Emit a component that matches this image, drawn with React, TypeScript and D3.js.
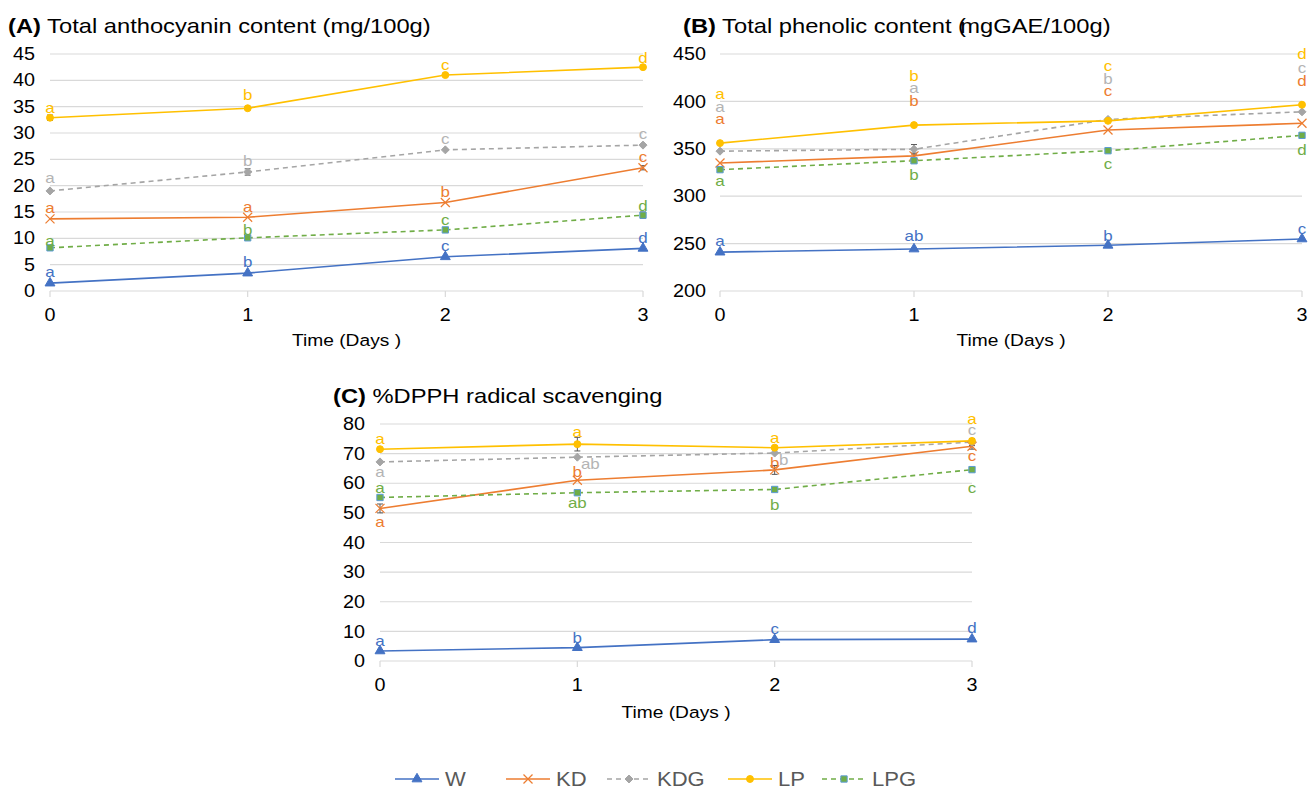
import React from 'react';
import * as d3 from 'd3';

const days = [0, 1, 2, 3];
const seriesNames = ['W', 'KD', 'KDG', 'LP', 'LPG'];

// Panel A: total anthocyanin content
const anthoW = [1.5, 3.4, 6.5, 8.1];
const anthoKD = [13.7, 14.0, 16.8, 23.4];
const anthoKDG = [19.0, 22.6, 26.8, 27.7];
const anthoLP = [32.9, 34.7, 41.0, 42.5];
const anthoLPG = [8.2, 10.1, 11.6, 14.4];
const anthoErrW = [0, 0, 0, 0];
const anthoErrKD = [0, 0, 0, 0.4];
const anthoErrKDG = [0, 0.6, 0, 0];
const anthoErrLP = [0.5, 0, 0, 0];
const anthoErrLPG = [0, 0, 0, 0.6];
const anthoLetW = ['a', 'b', 'c', 'd'];
const anthoLetKD = ['a', 'a', 'b', 'c'];
const anthoLetKDG = ['a', 'b', 'c', 'c'];
const anthoLetLP = ['a', 'b', 'c', 'd'];
const anthoLetLPG = ['a', 'b', 'c', 'd'];
const anthoTicks = [0, 5, 10, 15, 20, 25, 30, 35, 40, 45];

// Panel B: total phenolic content
const phenW = [241, 244.3, 248.2, 254.9];
const phenKD = [335, 342.5, 369.8, 376.9];
const phenKDG = [347.5, 349.5, 381, 389];
const phenLP = [356, 375, 379.5, 396.5];
const phenLPG = [328, 337.4, 348, 364.2];
const phenErrW = [0, 0, 0, 0];
const phenErrKD = [0, 3, 0, 0];
const phenErrKDG = [0, 5, 0, 0];
const phenErrLP = [0, 0, 0, 0];
const phenErrLPG = [2, 0, 0, 0];
const phenLetW = ['a', 'ab', 'b', 'c'];
const phenLetKD = ['a', 'b', 'c', 'd'];
const phenLetKDG = ['a', 'a', 'b', 'c'];
const phenLetLP = ['a', 'b', 'c', 'd'];
const phenLetLPG = ['a', 'b', 'c', 'd'];
const phenTicks = [200, 250, 300, 350, 400, 450];

// Panel C: %DPPH radical scavenging
const dpphW = [3.4, 4.5, 7.2, 7.4];
const dpphKD = [51.5, 61.0, 64.5, 72.5];
const dpphKDG = [67.2, 68.8, 70.2, 73.9];
const dpphLP = [71.5, 73.2, 72.0, 74.3];
const dpphLPG = [55.2, 56.8, 57.9, 64.6];
const dpphErrW = [0, 0, 0, 0];
const dpphErrKD = [1.5, 0, 1.5, 1];
const dpphErrKDG = [0, 0, 0, 1.2];
const dpphErrLP = [0, 2.3, 0, 0];
const dpphErrLPG = [0, 0, 0, 0];
const dpphLetW = ['a', 'b', 'c', 'd'];
const dpphLetKD = ['a', 'b', 'b', 'c'];
const dpphLetKDG = ['a', 'ab', 'b', 'c'];
const dpphLetLP = ['a', 'a', 'a', 'a'];
const dpphLetLPG = ['a', 'ab', 'b', 'c'];
const dpphTicks = [0, 10, 20, 30, 40, 50, 60, 70, 80];

const xTickLabels = ['0', '1', '2', '3'];

// ---- styles / layout ----
const COLORS: Record<string, string> = {
  W: '#4472C4',
  KD: '#ED7D31',
  KDG: '#A5A5A5',
  LP: '#FFC000',
  LPG: '#70AD47',
};
const LETTER_COLORS: Record<string, string> = {
  W: '#4472C4',
  KD: '#ED7D31',
  KDG: '#B4B4B4',
  LP: '#FFC000',
  LPG: '#70AD47',
};
const DASHED: Record<string, boolean> = { W: false, KD: false, KDG: true, LP: false, LPG: true };
const FONT = '"Liberation Sans", Arial, Helvetica, sans-serif';
const SX = 1.13;

type Off = [number, number][];
const def: Off = [[0, -11], [0, -11], [0, -11], [0, -11]];

const panels = [
  {
    key: 'A',
    tag: '(A)',
    title: ' Total anthocyanin content (mg/100g)',
    titleX: 8, titleY: 33,
    xRange: [50, 643], yRange: [291, 54], yDomain: [0, 45],
    ticks: anthoTicks, tickRight: 35, axisTitleY: 340,
    values: { W: anthoW, KD: anthoKD, KDG: anthoKDG, LP: anthoLP, LPG: anthoLPG },
    errs: { W: anthoErrW, KD: anthoErrKD, KDG: anthoErrKDG, LP: anthoErrLP, LPG: anthoErrLPG },
    letters: { W: anthoLetW, KD: anthoLetKD, KDG: anthoLetKDG, LP: anthoLetLP, LPG: anthoLetLPG },
    offsets: {
      W: def, KD: def, KDG: [[0, -13], [0, -11], [0, -11], [0, -11]] as Off,
      LP: [[0, -10], [0, -14], [0, -10], [0, -9]] as Off,
      LPG: [[0, -7], [0, -8], [0, -10], [0, -9]] as Off,
    },
  },
  {
    key: 'B',
    tag: '(B)',
    title: ' Total phenolic content (',
    title2: 'mgGAE/100g)',
    titleX: 683, titleY: 33,
    xRange: [720, 1302], yRange: [291, 54], yDomain: [200, 450],
    ticks: phenTicks, tickRight: 706, axisTitleY: 340,
    values: { W: phenW, KD: phenKD, KDG: phenKDG, LP: phenLP, LPG: phenLPG },
    errs: { W: phenErrW, KD: phenErrKD, KDG: phenErrKDG, LP: phenErrLP, LPG: phenErrLPG },
    letters: { W: phenLetW, KD: phenLetKD, KDG: phenLetKDG, LP: phenLetLP, LPG: phenLetLPG },
    offsets: {
      W: [[0, -11], [0, -13], [0, -10], [0, -10]] as Off,
      KD: [[0, -44], [0, -55], [0, -39], [0, -43]] as Off,
      KDG: [[0, -44], [0, -62], [0, -41], [0, -44]] as Off,
      LP: [[0, -49], [0, -49], [0, -55], [0, -51]] as Off,
      LPG: [[0, 11], [0, 14], [0, 13], [0, 14]] as Off,
    },
  },
  {
    key: 'C',
    tag: '(C)',
    title: ' %DPPH radical scavenging',
    titleX: 333, titleY: 403,
    xRange: [380, 972], yRange: [661, 424], yDomain: [0, 80],
    ticks: dpphTicks, tickRight: 365, axisTitleY: 712,
    values: { W: dpphW, KD: dpphKD, KDG: dpphKDG, LP: dpphLP, LPG: dpphLPG },
    errs: { W: dpphErrW, KD: dpphErrKD, KDG: dpphErrKDG, LP: dpphErrLP, LPG: dpphErrLPG },
    letters: { W: dpphLetW, KD: dpphLetKD, KDG: dpphLetKDG, LP: dpphLetLP, LPG: dpphLetLPG },
    offsets: {
      W: [[0, -10], [0, -10], [0, -11], [0, -11]] as Off,
      KD: [[0, 13], [0, -9], [0, -7], [0, 10]] as Off,
      KDG: [[0, 10], [13, 7], [9, 7], [0, -12]] as Off,
      LP: [[0, -10], [0, -12], [0, -10], [0, -22]] as Off,
      LPG: [[0, -10], [0, 10], [0, 15], [0, 18]] as Off,
    },
  },
];

function T({
  x, y, size, fill = '#000', anchor = 'start', middle = true, children,
}: {
  x: number; y: number; size: number; fill?: string; anchor?: string; middle?: boolean; children: any;
}) {
  return (
    <g transform={`translate(${x},${y}) scale(${SX},1)`}>
      <text
        x={0}
        y={0}
        dy={middle ? '0.35em' : undefined}
        textAnchor={anchor as any}
        fontFamily={FONT}
        fontSize={size}
        fill={fill}
      >
        {children}
      </text>
    </g>
  );
}

function Marker({ name, x, y }: { name: string; x: number; y: number }) {
  const c = COLORS[name];
  if (name === 'KD') {
    const s = 4.5;
    return (
      <g stroke={c} strokeWidth={1.2}>
        <line x1={x - s} y1={y - s} x2={x + s} y2={y + s} />
        <line x1={x - s} y1={y + s} x2={x + s} y2={y - s} />
      </g>
    );
  }
  if (name === 'KDG') {
    const s = 4;
    return (
      <path
        d={`M${x},${y - s}L${x + s},${y}L${x},${y + s}L${x - s},${y}Z`}
        fill={c}
        stroke={c}
        strokeWidth={1}
      />
    );
  }
  let type = d3.symbolCircle;
  let size = 36;
  let stroke = c;
  if (name === 'W') { type = d3.symbolTriangle; size = 42; }
  if (name === 'LP') { type = d3.symbolCircle; size = 38; }
  if (name === 'LPG') { type = d3.symbolSquare; size = 40; stroke = '#5B9BD5'; }
  const p = d3.symbol().type(type).size(size)() as string;
  return <path d={p} transform={`translate(${x},${y})`} fill={c} stroke={stroke} strokeWidth={1} />;
}

function Panel({ cfg }: { cfg: any }) {
  const x = d3.scaleLinear().domain([0, 3]).range(cfg.xRange);
  const y = d3.scaleLinear().domain(cfg.yDomain).range(cfg.yRange);
  const line = d3.line<number>().x((_, i) => x(days[i])).y((v) => y(v));
  const [x0, x1] = cfg.xRange;
  const yBottom = cfg.yRange[0];
  return (
    <g>
      <T x={cfg.titleX} y={cfg.titleY} size={21} middle={false}>
        <tspan fontWeight="bold">{cfg.tag}</tspan>
        <tspan>{cfg.title}</tspan>
        {cfg.title2 ? <tspan dx={-5}>{cfg.title2}</tspan> : null}
      </T>
      {cfg.ticks.map((t: number) => (
        <g key={t}>
          <line x1={x0} x2={x1} y1={y(t)} y2={y(t)} stroke="#D9D9D9" strokeWidth={1.2} />
          <T x={cfg.tickRight} y={y(t)} size={17.5} anchor="end">
            {t}
          </T>
        </g>
      ))}
      {days.map((d, i) => (
        <g key={d}>
          <line x1={x(d)} x2={x(d)} y1={yBottom} y2={yBottom + 6} stroke="#D9D9D9" strokeWidth={1.2} />
          <T x={x(d)} y={yBottom + 24} size={17.5} anchor="middle">
            {xTickLabels[i]}
          </T>
        </g>
      ))}
      <T x={(x0 + x1) / 2} y={cfg.axisTitleY} size={17} anchor="middle">
        Time (Days )
      </T>
      {seriesNames.map((n) => (
        <path
          key={n}
          d={line(cfg.values[n]) as string}
          fill="none"
          stroke={COLORS[n]}
          strokeWidth={1.6}
          strokeDasharray={DASHED[n] ? '5,4' : undefined}
        />
      ))}
      {seriesNames.map((n) =>
        cfg.values[n].map((v: number, i: number) => {
          const e = cfg.errs[n][i];
          if (!e) return null;
          const cx = x(days[i]);
          return (
            <g key={n + 'e' + i} stroke="#595959" strokeWidth={1}>
              <line x1={cx} x2={cx} y1={y(v - e)} y2={y(v + e)} />
              <line x1={cx - 3} x2={cx + 3} y1={y(v - e)} y2={y(v - e)} />
              <line x1={cx - 3} x2={cx + 3} y1={y(v + e)} y2={y(v + e)} />
            </g>
          );
        })
      )}
      {seriesNames.map((n) =>
        cfg.values[n].map((v: number, i: number) => (
          <Marker key={n + 'm' + i} name={n} x={x(days[i])} y={y(v)} />
        ))
      )}
      {seriesNames.map((n) =>
        cfg.values[n].map((v: number, i: number) => {
          const [dx, dy] = cfg.offsets[n][i];
          return (
            <T
              key={n + 'l' + i}
              x={x(days[i]) + dx}
              y={y(v) + dy}
              size={15}
              anchor="middle"
              fill={LETTER_COLORS[n]}
            >
              {cfg.letters[n][i]}
            </T>
          );
        })
      )}
    </g>
  );
}

const legendItems = [
  { name: 'W', x: 395 },
  { name: 'KD', x: 506 },
  { name: 'KDG', x: 607 },
  { name: 'LP', x: 728 },
  { name: 'LPG', x: 822 },
];

export default function App() {
  const ly = 779;
  return (
    <svg
      width={1309}
      height={791}
      style={{ position: 'absolute', left: 0, top: 0, background: '#fff' }}
    >
      <rect x={0} y={0} width={1309} height={791} fill="#fff" />
      {panels.map((p) => (
        <Panel key={p.key} cfg={p} />
      ))}
      {legendItems.map((it) => (
        <g key={it.name}>
          <line
            x1={it.x}
            x2={it.x + 44}
            y1={ly}
            y2={ly}
            stroke={COLORS[it.name]}
            strokeWidth={1.6}
            strokeDasharray={DASHED[it.name] ? '5,4' : undefined}
          />
          <Marker name={it.name} x={it.x + 22} y={ly} />
          <T x={it.x + 50} y={ly} size={19.5} fill="#595959">
            {it.name}
          </T>
        </g>
      ))}
    </svg>
  );
}
